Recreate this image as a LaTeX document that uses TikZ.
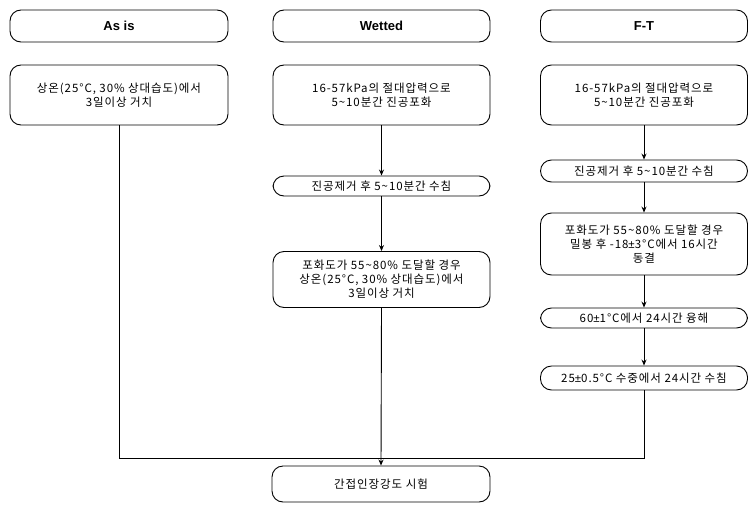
\documentclass[tikz,border=0pt]{standalone}
\usepackage{fontspec}
\setmainfont{Noto Sans CJK KR}[LetterSpace=8]
\newfontfamily\hdfont{Liberation Sans}
\newcommand{\pmsym}{{\hdfont ±}}
\usetikzlibrary{arrows.meta}
\tikzset{
  box/.style={draw, line width=0.9pt, rounded corners=11pt, align=center,
    font=\fontsize{11.5}{14}\selectfont, inner sep=0pt, text=black},
  hdr/.style={box, font=\hdfont\bfseries\fontsize{13}{15}\selectfont},
  conn/.style={line width=0.9pt},
  arr/.style={conn, -{Stealth[length=6pt,width=5pt]}}
}
\begin{document}
\begin{tikzpicture}[x=1pt,y=-1pt]
\useasboundingbox (0,0) rectangle (749,506);
% headers
\node[hdr, minimum width=218pt, minimum height=32pt] (h1) at (119,26) {As is};
\node[hdr, minimum width=217pt, minimum height=32pt] (h2) at (381.5,26) {Wetted};
\node[hdr, minimum width=207pt, minimum height=32pt] (h3) at (644,26) {F-T};
% As is column
\node[box, minimum width=218pt, minimum height=60pt] (a1) at (119,95) {상온(25°C, 30\% 상대습도)에서\\3일이상 거치};
% Wetted column
\node[box, minimum width=217pt, minimum height=60pt] (w1) at (381.5,95) {16-57kPa의 절대압력으로\\5\textasciitilde10분간 진공포화};
\node[box, minimum width=217pt, minimum height=20pt] (w2) at (381.5,186) {진공제거 후 5\textasciitilde10분간 수침};
\node[box, minimum width=217pt, minimum height=56pt] (w3) at (381.5,279.5) {포화도가 55\textasciitilde80\% 도달할 경우\\상온(25°C, 30\% 상대습도)에서\\3일이상 거치};
% F-T column
\node[box, minimum width=207pt, minimum height=60pt] (f1) at (644,95) {16-57kPa의 절대압력으로\\5\textasciitilde10분간 진공포화};
\node[box, minimum width=207pt, minimum height=22pt] (f2) at (644,171) {진공제거 후 5\textasciitilde10분간 수침};
\node[box, minimum width=207pt, minimum height=62pt] (f3) at (644,244) {포화도가 55\textasciitilde80\% 도달할 경우\\밀봉 후 -18\pmsym3°C에서 16시간\\동결};
\node[box, minimum width=207pt, minimum height=20pt] (f4) at (644,318) {60\pmsym1°C에서 24시간 융해};
\node[box, minimum width=207pt, minimum height=24pt] (f5) at (644,378) {25\pmsym0.5°C 수중에서 24시간 수침};
% final
\node[box, minimum width=218pt, minimum height=36pt] (fin) at (381,484) {간접인장강도 시험};
\coordinate (j) at (381.5,458);
% connectors
\draw[arr] (w1) -- (w2);
\draw[arr] (w2) -- (w3);
\draw[arr] (f1) -- (f2);
\draw[arr] (f2) -- (f3);
\draw[arr] (f3) -- (f4);
\draw[arr] (f4) -- (f5);
\draw[conn] (a1.south) |- (j);
\draw[conn] (f5.south) |- (j);
\draw[arr] (w3.south) -- (fin.north);
\end{tikzpicture}
\end{document}
